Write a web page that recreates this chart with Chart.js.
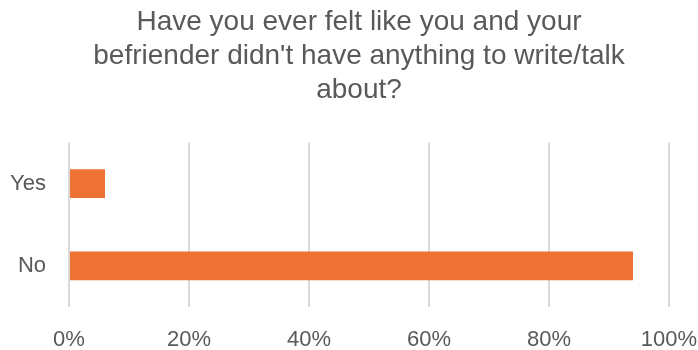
<!DOCTYPE html>
<html>
<head>
<meta charset="utf-8">
<script src="https://cdn.jsdelivr.net/npm/chart.js@4"></script>
<style>
  html, body { margin: 0; padding: 0; background: #ffffff; }
  #wrap { width: 698px; height: 350px; }
</style>
</head>
<body>
<div id="wrap"><canvas id="chart" width="698" height="350"></canvas></div>
<script>
// Survey answers and share of respondents (%)
const categories = ['Yes', 'No'];
const shares = [6, 94];
const tickValues = [0, 20, 40, 60, 80, 100];
const titleLines = [
  'Have you ever felt like you and your',
  "befriender didn't have anything to write/talk",
  'about?'
];

const textColor = '#595959';
const fontFamily = '"Liberation Sans", Arial, sans-serif';

// Let the category axis box reach the canvas edge so its labels are not clipped
const widenCategoryAxis = {
  id: 'widenCategoryAxis',
  afterLayout(chart) {
    chart.scales.y.left = 0;
  }
};

new Chart(document.getElementById('chart'), {
  type: 'bar',
  data: {
    labels: categories,
    datasets: [{
      data: shares,
      backgroundColor: '#ed7233',
      borderWidth: 0,
      barPercentage: 0.7,
      categoryPercentage: 0.5
    }]
  },
  plugins: [widenCategoryAxis],
  options: {
    indexAxis: 'y',
    responsive: false,
    animation: false,
    layout: { padding: { left: 20, right: 0, top: 0, bottom: 0 } },
    plugins: {
      legend: { display: false },
      tooltip: { enabled: false },
      title: {
        display: true,
        text: titleLines,
        color: textColor,
        font: { family: fontFamily, size: 28, weight: 'normal', lineHeight: 1.22 },
        padding: { top: 5, bottom: 35 }
      }
    },
    scales: {
      x: {
        min: 0,
        max: 100,
        afterBuildTicks: (axis) => { axis.ticks = tickValues.map(v => ({ value: v })); },
        afterFit: (axis) => {
          axis.height = 43;
          axis.paddingLeft = 0;
          axis.paddingRight = 29;
        },
        grid: { color: '#d9d9d9', lineWidth: 2, drawTicks: false },
        border: { display: false },
        ticks: {
          color: textColor,
          padding: 20,
          maxRotation: 0,
          font: { family: fontFamily, size: 22 },
          callback: (v) => v + '%'
        }
      },
      y: {
        afterFit: (axis) => { axis.width = 49; },
        grid: { display: false, drawTicks: false },
        border: { display: false },
        ticks: {
          color: textColor,
          padding: 23,
          font: { family: fontFamily, size: 22 }
        }
      }
    }
  }
});
</script>
</body>
</html>
